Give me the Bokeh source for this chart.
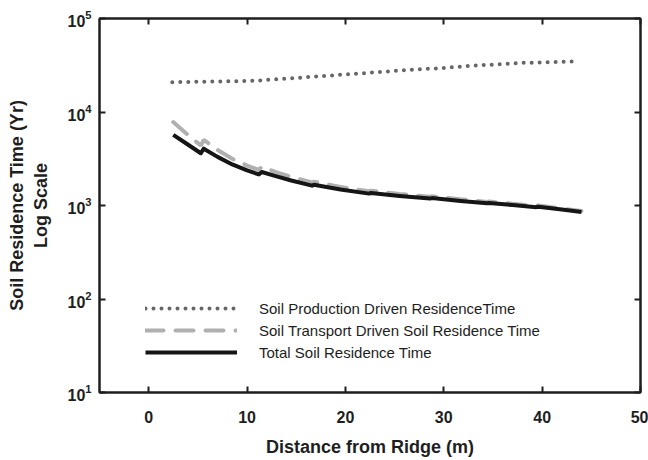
from bokeh.plotting import figure
from bokeh.models import (Range1d, FixedTicker, LinearAxis, LogAxis, Legend, LegendItem,
                          CustomJSTickFormatter)
from bokeh.embed import file_html
from bokeh.resources import INLINE

# Soil production driven residence time
x_prod = [2.4, 11.2, 11.4, 18.4, 25.6, 30.2, 32.4, 38.0, 43.2]
y_prod = [20800, 21600, 21800, 24500, 27800, 29700, 31000, 33500, 34800]

# Distances for transport-driven and total residence time
x_dist = [2.5, 3.9, 5.3, 5.6, 7.0, 8.5, 10.0, 11.2, 11.5, 13.0, 14.5, 16.6, 16.8,
          19.5, 22.4, 22.6, 25.5, 28.6, 28.8, 31.7, 34.4, 34.6, 37.0, 39.4, 39.6,
          42.0, 44.0]
# Soil transport driven residence time
y_trans = [7800, 5800, 4380, 5020, 3930, 3160, 2670, 2400, 2600, 2260, 2020, 1760, 1800,
           1580, 1420, 1440, 1330, 1240, 1255, 1165, 1092, 1103, 1042, 988, 999,
           930, 872]
# Total soil residence time
y_total = [5700, 4550, 3620, 4050, 3310, 2750, 2370, 2150, 2280, 2050, 1850, 1630, 1665,
           1480, 1340, 1360, 1265, 1185, 1200, 1120, 1055, 1065, 1010, 960, 970,
           905, 850]

x_ticks = [0, 10, 20, 30, 40, 50]
y_ticks = [10, 100, 1000, 10000, 100000]
labels = ["Soil Production Driven ResidenceTime",
          "Soil Transport Driven Soil Residence Time",
          "Total Soil Residence Time"]

FONT = "Liberation Sans"
INK = "#1e1e1e"

p = figure(width=648, height=460, output_backend="svg", toolbar_location=None,
           y_axis_type="log", x_range=Range1d(-5, 50), y_range=Range1d(10, 1e5),
           min_border_left=99, min_border_right=8, min_border_top=18, min_border_bottom=68)
p.background_fill_color = "white"
p.border_fill_color = "white"
p.grid.visible = False
p.outline_line_color = INK
p.outline_line_width = 2

r1 = p.line(x_prod, y_prod, line_color="#666666", line_width=4, line_dash="0 8", line_cap="round")
r2 = p.line(x_dist, y_trans, line_color="#b0b0b0", line_width=4, line_dash="18 12", line_cap="round")
r3 = p.line(x_dist, y_total, line_color="#151515", line_width=4, line_join="round")

xa = p.xaxis[0]
xa.ticker = FixedTicker(ticks=x_ticks, minor_ticks=[])
ya = p.yaxis[0]
ya.ticker = FixedTicker(ticks=y_ticks, minor_ticks=[])

for ax in (xa, ya):
    ax.major_tick_in = 6
    ax.major_tick_out = 0
    ax.minor_tick_in = 0
    ax.minor_tick_out = 0
    ax.axis_line_width = 2
    ax.axis_line_color = INK
    ax.major_tick_line_width = 2
    ax.major_tick_line_color = INK
    ax.major_label_text_font = FONT
    ax.major_label_text_font_style = "bold"
    ax.major_label_text_font_size = "16px"
    ax.major_label_text_color = INK
    ax.axis_label_text_font = FONT
    ax.axis_label_text_font_style = "bold"
    ax.axis_label_text_font_size = "18px"
    ax.axis_label_text_color = INK

xa.axis_label = "Distance from Ridge (m)"
xa.major_label_standoff = 18
xa.axis_label_standoff = 11
ya.axis_label = "Soil Residence Time (Yr)\nLog Scale"
ya.major_label_standoff = 8
ya.axis_label_standoff = 13

blank = CustomJSTickFormatter(code="return '';")
top = LinearAxis(ticker=FixedTicker(ticks=x_ticks, minor_ticks=[]), formatter=blank)
right = LogAxis(ticker=FixedTicker(ticks=y_ticks, minor_ticks=[]), formatter=blank)
for ax in (top, right):
    ax.major_tick_in = 6
    ax.major_tick_out = 0
    ax.minor_tick_in = 0
    ax.minor_tick_out = 0
    ax.axis_line_width = 2
    ax.axis_line_color = INK
    ax.major_tick_line_width = 2
    ax.major_tick_line_color = INK
    ax.major_label_standoff = 0
p.add_layout(top, "above")
p.add_layout(right, "right")

legend = Legend(items=[LegendItem(label=labels[0], renderers=[r1]),
                       LegendItem(label=labels[1], renderers=[r2]),
                       LegendItem(label=labels[2], renderers=[r3])],
                location=(46, 29))
legend.glyph_width = 92
legend.glyph_height = 22
legend.label_height = 22
legend.label_standoff = 22
legend.spacing = 0
legend.padding = 0
legend.margin = 0
legend.border_line_alpha = 0
legend.background_fill_alpha = 0
legend.label_text_font = FONT
legend.label_text_font_size = "15px"
legend.label_text_color = INK
p.add_layout(legend, "center")

open("out.html", "w").write(file_html(p, INLINE))
